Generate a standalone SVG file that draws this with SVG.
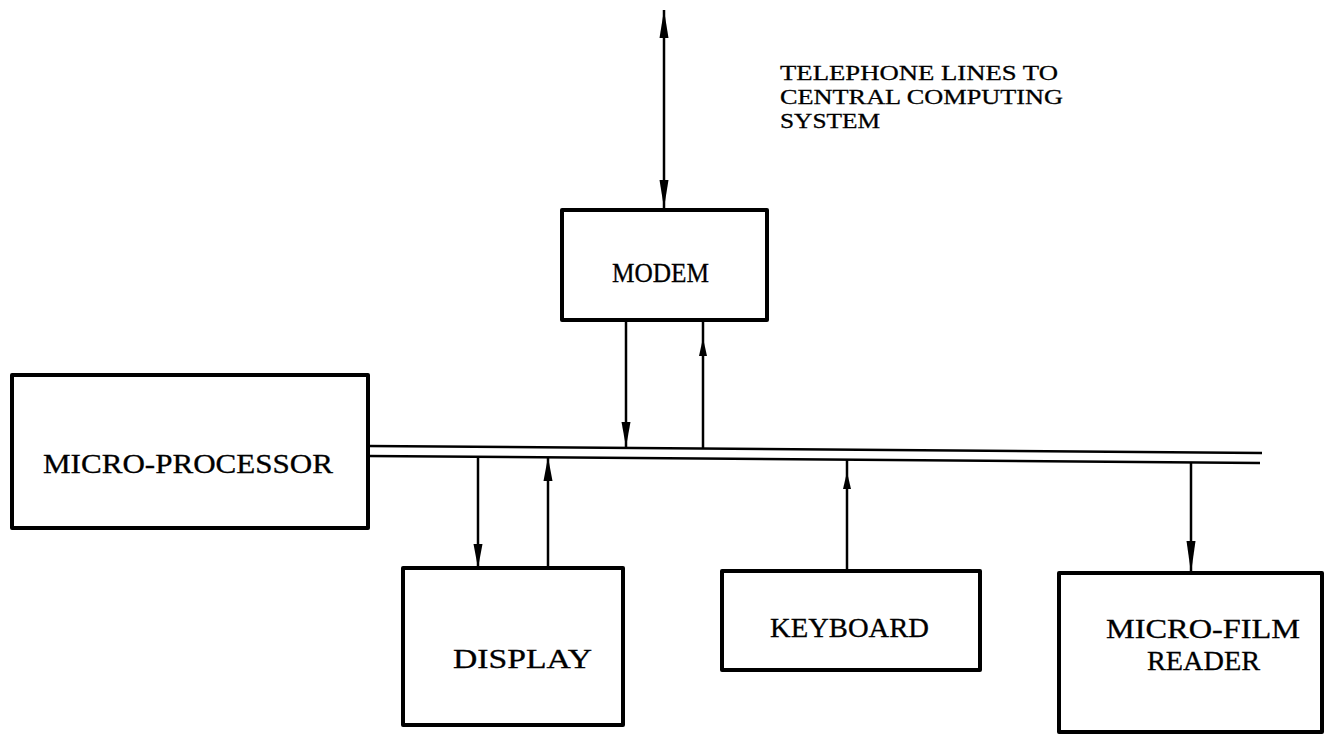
<svg xmlns="http://www.w3.org/2000/svg" width="1328" height="734" viewBox="0 0 1328 734">
<style>
.box{fill:#fff;stroke:#000;stroke-width:4;stroke-linejoin:round}
.ln{fill:none;stroke:#000;stroke-width:2.5}
.bus{fill:none;stroke:#000;stroke-width:2.5}
.ah{fill:#000;stroke:none}
.lbl{font-family:"Liberation Serif","Times New Roman",serif;font-size:27px;fill:#000;stroke:#000;stroke-width:0.3}
.note{font-family:"Liberation Serif","Times New Roman",serif;font-size:22px;fill:#000;stroke:#000;stroke-width:0.3}
</style>
<rect width="1328" height="734" fill="#fff"/>
<g id="connectors">
<path class="bus" d="M368 446 L1262 453"/>
<path class="bus" d="M368 456 L1260 463"/>
<path class="ln" d="M664 10 V210"/>
<polygon class="ah" points="664,10 668.5,38 659.5,38"/>
<polygon class="ah" points="664,208 668.5,180 659.5,180"/>
<path class="ln" d="M626 320 V447"/>
<polygon class="ah" points="626,447 630.5,422 621.5,422"/>
<path class="ln" d="M703 320 V448"/>
<polygon class="ah" points="703,338 707,356 699,356"/>
<path class="ln" d="M478 457 V568"/>
<polygon class="ah" points="478,568 482.5,544 473.5,544"/>
<path class="ln" d="M548 457 V568"/>
<polygon class="ah" points="548,457 552.5,481 543.5,481"/>
<path class="ln" d="M847 459 V571"/>
<polygon class="ah" points="847,472 851,489 843,489"/>
<path class="ln" d="M1191 463 V573"/>
<polygon class="ah" points="1191,573 1195.5,541 1186.5,541"/>
</g>
<g id="note">
<text class="note" x="780" y="80" textLength="278" lengthAdjust="spacingAndGlyphs">TELEPHONE LINES TO</text>
<text class="note" x="780" y="104" textLength="283" lengthAdjust="spacingAndGlyphs">CENTRAL COMPUTING</text>
<text class="note" x="780" y="128" textLength="100" lengthAdjust="spacingAndGlyphs">SYSTEM</text>
</g>
<g id="modem">
<rect class="box" x="562" y="210" width="205" height="110"/>
<text class="lbl" x="612" y="282" textLength="97" lengthAdjust="spacingAndGlyphs">MODEM</text>
</g>
<g id="microprocessor">
<rect class="box" x="12" y="375" width="356" height="153"/>
<text class="lbl" x="43" y="473" textLength="290" lengthAdjust="spacingAndGlyphs">MICRO-PROCESSOR</text>
</g>
<g id="display">
<rect class="box" x="403" y="568" width="220" height="157"/>
<text class="lbl" x="453" y="668" textLength="139" lengthAdjust="spacingAndGlyphs">DISPLAY</text>
</g>
<g id="keyboard">
<rect class="box" x="722" y="571" width="258" height="99"/>
<text class="lbl" x="770" y="637" textLength="159" lengthAdjust="spacingAndGlyphs">KEYBOARD</text>
</g>
<g id="microfilm">
<rect class="box" x="1059" y="573" width="263" height="159"/>
<text class="lbl" x="1106" y="638" textLength="194" lengthAdjust="spacingAndGlyphs">MICRO-FILM</text>
<text class="lbl" x="1147" y="670" textLength="113" lengthAdjust="spacingAndGlyphs">READER</text>
</g>
</svg>
